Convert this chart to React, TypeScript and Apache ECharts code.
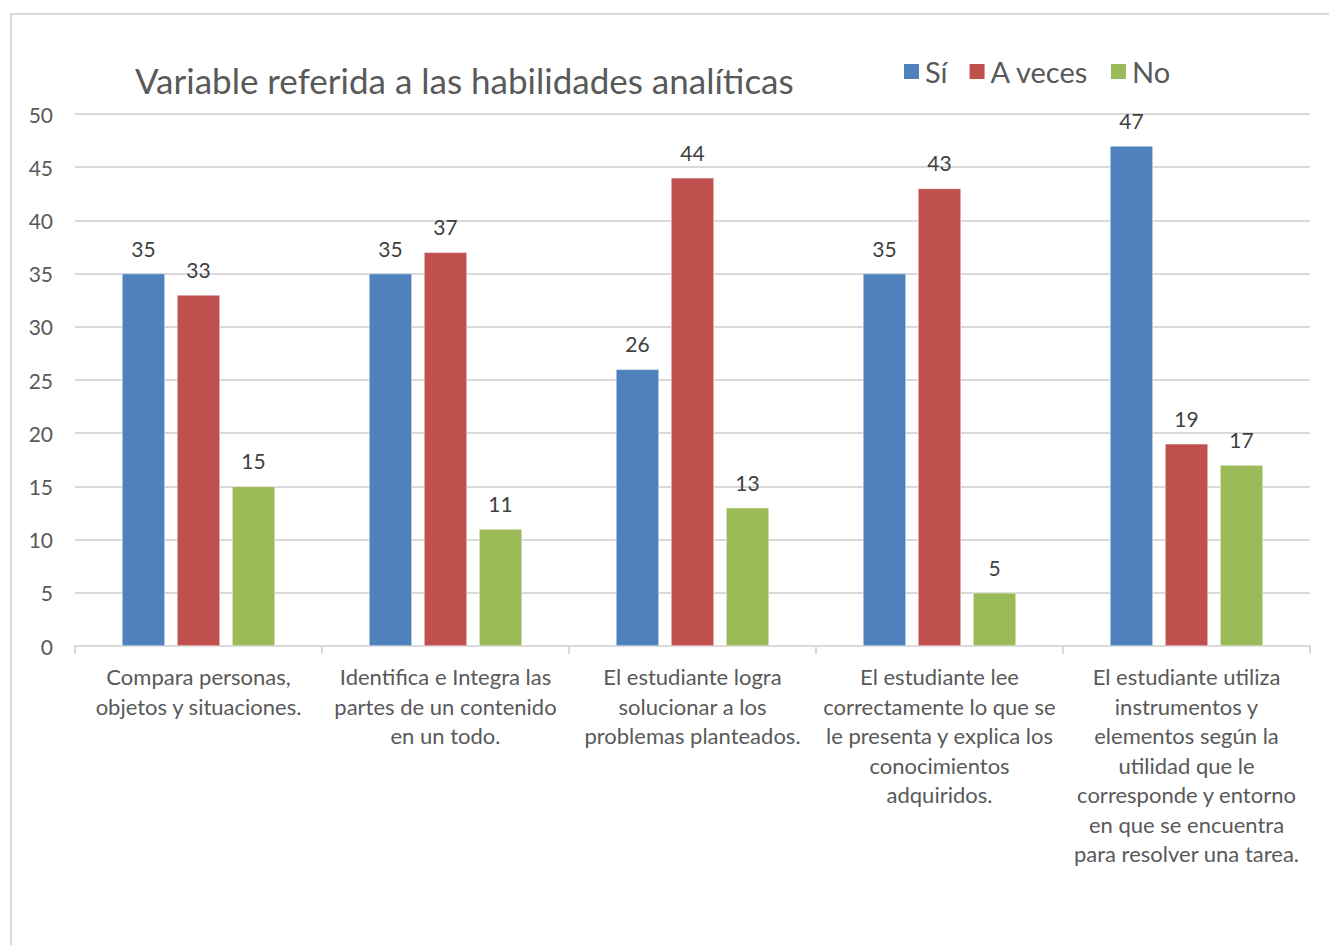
import React, { useEffect, useRef } from "react";
import * as echarts from "echarts";

const categories = [
  "Compara personas,\nobjetos y situaciones.",
  "Identifica e Integra las\npartes de un contenido\nen un todo.",
  "El estudiante logra\nsolucionar a los\nproblemas planteados.",
  "El estudiante lee\ncorrectamente lo que se\nle presenta y explica los\nconocimientos\nadquiridos.",
  "El estudiante utiliza\ninstrumentos y\nelementos según la\nutilidad que le\ncorresponde y entorno\nen que se encuentra\npara resolver una tarea.",
];
const seriesNames = ["Sí", "A veces", "No"];
const siValues = [35, 35, 26, 35, 47];
const aVecesValues = [33, 37, 44, 43, 19];
const noValues = [15, 11, 13, 5, 17];
const colors = ["#4f81bd", "#c0504d", "#9bbb59"];
const titleText = "Variable referida a las habilidades analíticas";

const FONT = "Lato, 'Open Sans', sans-serif";

export default function App() {
  const ref = useRef<HTMLDivElement>(null);
  useEffect(() => {
    if (!ref.current) return;
    const chart = echarts.init(ref.current, null, { renderer: "svg" });
    const values = [siValues, aVecesValues, noValues];
    chart.setOption({
      animation: false,
      backgroundColor: "#ffffff",
      textStyle: { fontFamily: FONT },
      title: {
        text: titleText,
        left: 130,
        top: 57,
        textStyle: { fontFamily: FONT, fontSize: 35, fontWeight: "normal", color: "#595959" },
      },
      legend: {
        left: 897,
        top: 52,
        itemWidth: 17,
        itemHeight: 17,
        itemGap: 20,
        icon: "rect",
        textStyle: { fontFamily: FONT, fontSize: 29, color: "#595959" },
        data: seriesNames,
      },
      graphic: [
        {
          type: "rect",
          shape: { x: 11, y: 14, width: 1340, height: 960 },
          style: { fill: "none", stroke: "#d9d9d9", lineWidth: 2 },
          silent: true,
        },
      ],
      grid: { left: 75, right: 19, top: 114, bottom: 299, containLabel: false },
      xAxis: {
        type: "category",
        data: categories,
        axisLine: { lineStyle: { color: "#d9d9d9", width: 2 } },
        axisTick: { show: true, length: 8, lineStyle: { color: "#d9d9d9", width: 2 } },
        axisLabel: {
          interval: 0,
          fontFamily: FONT,
          fontSize: 22,
          lineHeight: 29.5,
          color: "#595959",
          margin: 16,
        },
      },
      yAxis: {
        type: "value",
        min: 0,
        max: 50,
        interval: 5,
        axisLine: { show: false },
        axisTick: { show: false },
        splitLine: { lineStyle: { color: "#d9d9d9", width: 2 } },
        axisLabel: { fontFamily: FONT, fontSize: 21, color: "#595959", margin: 22 },
      },
      series: seriesNames.map((name, i) => ({
        name,
        type: "bar",
        data: values[i],
        barWidth: 43,
        barGap: "28%",
        itemStyle: { color: colors[i], borderColor: "#ffffff", borderWidth: 0.5 },
        label: {
          show: true,
          position: "top",
          distance: 15,
          fontFamily: FONT,
          fontSize: 21,
          color: "#404040",
        },
      })),
    });
    return () => chart.dispose();
  }, []);
  return (
    <div
      ref={ref}
      style={{ position: "fixed", left: 0, top: 0, width: 1329, height: 945 }}
    />
  );
}
